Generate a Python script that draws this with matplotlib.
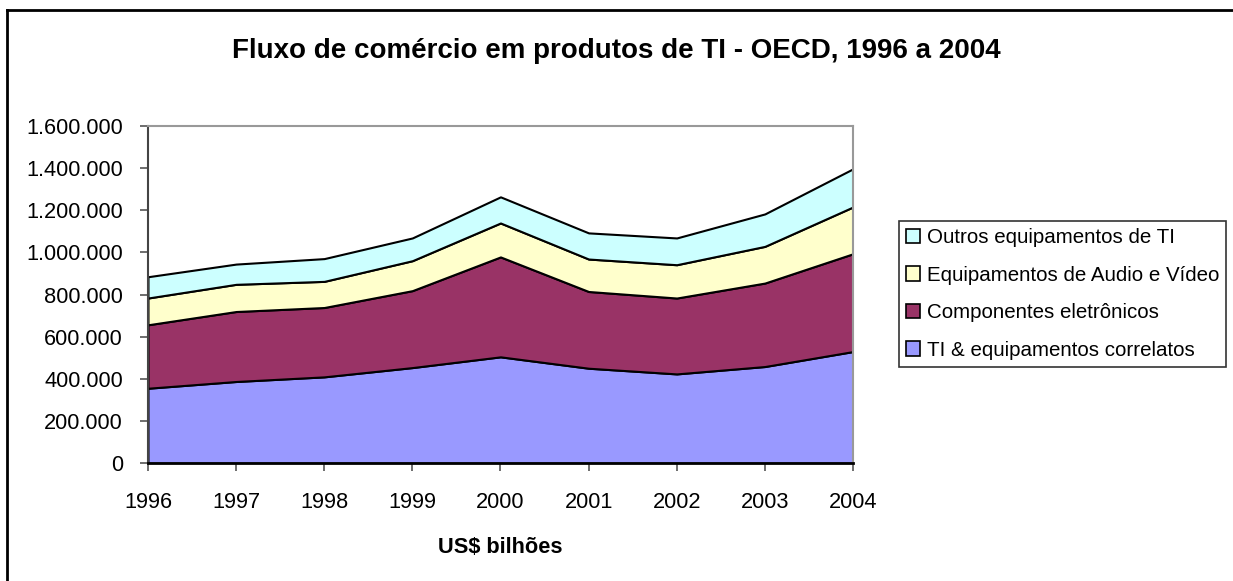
import matplotlib.pyplot as plt
from matplotlib.lines import Line2D
from matplotlib.patches import Patch
from matplotlib.ticker import FuncFormatter

plt.rcParams['font.family'] = ['Liberation Sans', 'DejaVu Sans']

anos = [1996, 1997, 1998, 1999, 2000, 2001, 2002, 2003, 2004]
# valores em US$
ti_correlatos = [356000, 388000, 410000, 454000, 505000, 451000, 424000, 459000, 530000]
componentes = [301000, 332000, 329000, 365000, 474000, 364000, 360000, 396000, 464000]
audio_video = [127000, 129000, 124000, 142000, 161000, 154000, 158000, 174000, 222000]
outros = [101000, 96000, 108000, 108000, 124000, 124000, 127000, 154000, 181000]

nomes = ['TI & equipamentos correlatos', 'Componentes eletrônicos',
         'Equipamentos de Audio e Vídeo', 'Outros equipamentos de TI']
cores = ['#9999FF', '#993366', '#FFFFCC', '#CCFFFF']

fig = plt.figure(figsize=(12.33, 5.81), dpi=100)
ax = fig.add_axes([0.12, 0.2026, 0.5718, 0.5805])

ax.stackplot(anos, ti_correlatos, componentes, audio_video, outros,
             colors=cores, edgecolor='black', linewidth=1.5)

ax.set_xlim(1996, 2004)
ax.set_ylim(0, 1600000)
ax.set_yticks(range(0, 1600001, 200000))
ax.yaxis.set_major_formatter(FuncFormatter(lambda v, p: f'{int(v):,}'.replace(',', '.')))
ax.set_xticks(anos)

ax.tick_params(axis='both', labelsize=15.7, color='#555555', length=6, width=1.2)
ax.tick_params(axis='y', direction='out', pad=12)
ax.tick_params(axis='x', direction='out', pad=15)

for s in ['top', 'right']:
    ax.spines[s].set_color('#999999')
    ax.spines[s].set_linewidth(1.5)
ax.spines['left'].set_color('#444444')
ax.spines['left'].set_linewidth(1.5)
ax.spines['bottom'].set_color('black')
ax.spines['bottom'].set_linewidth(2)

ax.set_xlabel('US$ bilhões', fontsize=15.7, fontweight='bold', labelpad=17)
fig.text(0.5, 0.912, 'Fluxo de comércio em produtos de TI - OECD, 1996 a 2004',
         ha='center', va='center', fontsize=20, fontweight='bold')

handles = [Patch(facecolor=c, edgecolor='black', linewidth=1.2, label=n)
           for c, n in zip(cores, nomes)][::-1]
leg = fig.legend(handles=handles, loc='upper left', bbox_to_anchor=(0.729, 0.6196),
                 fontsize=14.8, frameon=True, fancybox=False, handlelength=0.7,
                 handleheight=0.7, handletextpad=0.3, labelspacing=0.9,
                 borderpad=0.35, borderaxespad=0)
leg.get_frame().set_edgecolor('black')
leg.get_frame().set_linewidth(1.2)

# moldura da figura (so esquerda e topo visiveis)
fig.add_artist(Line2D([7 / 1233, 7 / 1233], [0, 1 - 10 / 581], color='black', linewidth=2,
                      transform=fig.transFigure))
fig.add_artist(Line2D([7 / 1233, 1], [1 - 10 / 581, 1 - 10 / 581], color='black', linewidth=2,
                      transform=fig.transFigure))

plt.savefig('out.png', dpi=100)
